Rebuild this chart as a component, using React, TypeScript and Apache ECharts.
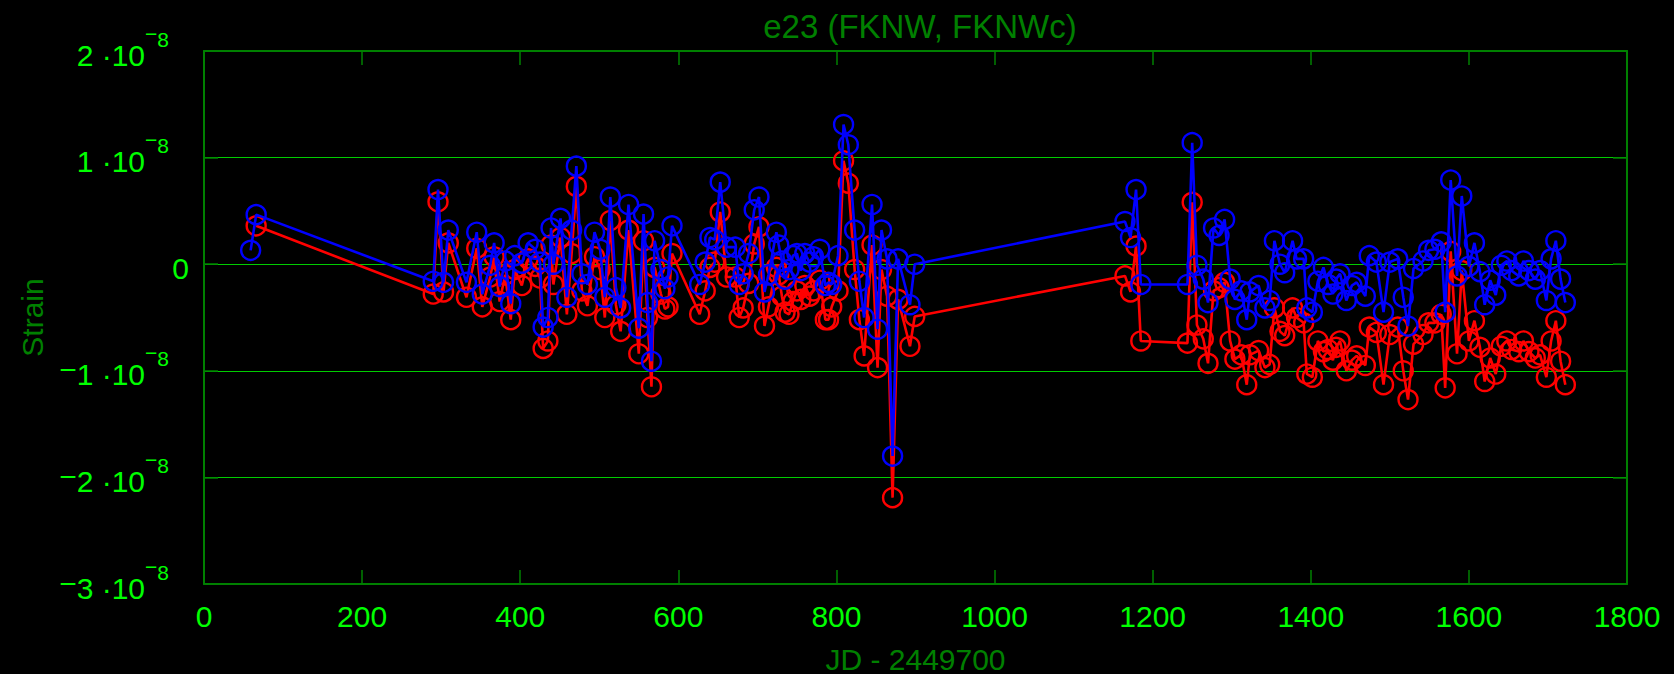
import React, { useEffect, useRef } from "react";
import * as echarts from "echarts";

// Julian day offsets (JD - 2449700)
const jd = [
  59, 66, 290, 296, 303, 309, 332, 345, 352, 362, 367, 374, 381, 388, 393, 402, 410, 419, 425, 429,
  435, 439, 442, 451, 459, 465, 471, 478, 485, 494, 501, 507, 514, 521, 527, 537, 550, 556, 561, 566,
  570, 578, 583, 587, 592, 627, 634, 640, 646, 653, 661, 672, 677, 682, 689, 696, 702, 709, 714, 724,
  727, 731, 735, 740, 745, 750, 755, 760, 766, 771, 779, 786, 790, 794, 802, 809, 815, 823, 829, 835,
  845, 852, 857, 864, 871, 878, 893, 899, 1165, 1172, 1179, 1185, 1244, 1250, 1256, 1264, 1270, 1277, 1284, 1291,
  1298, 1304, 1312, 1319, 1323, 1334, 1342, 1348, 1354, 1361, 1367, 1377, 1382, 1391, 1395, 1402, 1409, 1416, 1422, 1428,
  1432, 1437, 1445, 1452, 1458, 1469, 1474, 1483, 1492, 1500, 1510, 1517, 1523, 1530, 1542, 1549, 1557, 1565, 1570, 1577,
  1585, 1591, 1600, 1607, 1614, 1620, 1627, 1634, 1641, 1648, 1654, 1663, 1669, 1676, 1684, 1690, 1698, 1704, 1710, 1716,
  1722,
];

// e23 strain, FKNW (blue), in units of 1e-8
const fknw = [
  0.13, 0.465, -0.16, 0.70, -0.17, 0.32, -0.17, 0.30, -0.28, -0.01, 0.20, -0.21, 0.03, -0.37, 0.08, 0.01, 0.20, 0.14, 0.02, -0.59,
  -0.50, 0.34, 0.0, 0.43, -0.31, 0.32, 0.92, -0.09, -0.19, 0.30, 0.14, -0.31, 0.63, -0.22, -0.41, 0.56, -0.60, 0.47, -0.36, -0.91,
  0.22, -0.05, -0.23, -0.12, 0.36, -0.19, 0.02, 0.25, 0.23, 0.77, 0.16, 0.16, -0.19, -0.09, 0.10, 0.51, 0.63, -0.26, -0.10, 0.30,
  0.18, 0.03, -0.14, -0.05, 0.08, 0.10, -0.06, 0.10, 0.02, 0.07, 0.14, -0.20, -0.17, -0.19, 0.08, 1.31, 1.12, 0.32, -0.16, -0.50,
  0.56, -0.61, 0.32, 0.05, -1.80, 0.05, -0.38, 0.00, 0.40, 0.25, 0.70, -0.19, -0.19, 1.14, -0.01, -0.14, -0.36, 0.34, 0.27, 0.42,
  -0.14, -0.33, -0.25, -0.52, -0.26, -0.20, -0.41, -0.34, 0.22, 0.00, -0.08, 0.22, 0.05, 0.05, -0.41, -0.45, -0.16, -0.03, -0.19, -0.28,
  -0.14, -0.09, -0.34, -0.20, -0.17, -0.30, 0.08, 0.02, -0.45, 0.02, 0.05, -0.31, -0.58, -0.04, 0.03, 0.13, 0.14, 0.21, -0.45, 0.79,
  -0.11, 0.64, -0.02, 0.20, -0.07, -0.38, -0.15, -0.29, -0.01, 0.03, -0.06, -0.11, 0.03, -0.06, -0.14, -0.06, -0.34, 0.05, 0.22, -0.14,
  -0.36,
];

// e23 strain, FKNWc (red), in units of 1e-8
const fknwc = [
  null, 0.36, -0.28, 0.585, -0.26, 0.20, -0.31, 0.15, -0.40, -0.12, 0.07, -0.35, -0.10, -0.52, -0.05, -0.20, 0.05, -0.02, -0.13, -0.79,
  -0.72, 0.18, -0.19, 0.25, -0.47, 0.10, 0.73, -0.25, -0.39, 0.07, -0.05, -0.50, 0.41, -0.38, -0.63, 0.32, -0.84, 0.22, -0.50, -1.15,
  -0.03, -0.28, -0.42, -0.40, 0.10, -0.47, -0.25, -0.03, 0.02, 0.49, -0.12, -0.12, -0.50, -0.41, -0.18, 0.19, 0.35, -0.58, -0.40, -0.03,
  -0.10, -0.30, -0.45, -0.47, -0.35, -0.25, -0.33, -0.20, -0.30, -0.25, -0.15, -0.52, -0.52, -0.40, -0.25, 0.97, 0.76, -0.05, -0.52, -0.86,
  0.18, -0.97, -0.05, -0.30, -2.19, -0.33, -0.77, -0.49, -0.11, -0.26, 0.17, -0.72, -0.74, 0.58, -0.57, -0.70, -0.93, -0.25, -0.22, -0.17,
  -0.72, -0.89, -0.85, -1.13, -0.85, -0.81, -0.97, -0.94, -0.41, -0.63, -0.67, -0.41, -0.50, -0.55, -1.03, -1.06, -0.72, -0.82, -0.80, -0.90,
  -0.78, -0.72, -1.00, -0.90, -0.86, -0.95, -0.59, -0.64, -1.13, -0.66, -0.59, -1.00, -1.27, -0.75, -0.66, -0.55, -0.55, -0.47, -1.16, 0.12,
  -0.84, -0.06, -0.72, -0.53, -0.78, -1.10, -0.88, -1.03, -0.77, -0.72, -0.80, -0.82, -0.72, -0.82, -0.88, -0.85, -1.06, -0.72, -0.53, -0.91,
  -1.13,
];

const FONT = "Liberation Sans, Arial, sans-serif";
const DARK = "#008000";
const BRIGHT = "#00ff00";

function strainLabel(v: number): string {
  if (v === 0) return "{b|0}";
  const sign = v < 0 ? "{m|\u2212}" : "";
  return `${sign}{b|${Math.abs(v)} \u00b710}{sm|\u2212}{sup|8}`;
}

export default function App() {
  const ref = useRef<HTMLDivElement>(null);

  useEffect(() => {
    if (!ref.current) return;
    const chart = echarts.init(ref.current, undefined, { renderer: "svg" });

    const blueData = jd.map((x, i) => [x, fknw[i]]);
    const redData = jd
      .map((x, i) => [x, fknwc[i]])
      .filter((p) => p[1] !== null);

    const axisLine = { show: true, onZero: false, lineStyle: { color: DARK, width: 2 } };
    const tick = { show: true, inside: true, length: 14, lineStyle: { color: DARK, width: 1.5 } };

    chart.setOption({
      animation: false,
      backgroundColor: "#000",
      title: {
        text: "e23 (FKNW, FKNWc)",
        left: 915,
        top: 5,
        textAlign: "center",
        textStyle: { color: DARK, fontSize: 33, fontWeight: "normal", fontFamily: FONT },
      },
      grid: {
        left: 204,
        right: 47,
        top: 51,
        bottom: 90,
        containLabel: false,
        outerBoundsMode: "none",
      },
      xAxis: [
        {
          type: "value",
          min: 0,
          max: 1800,
          interval: 200,
          position: "bottom",
          name: "JD - 2449700",
          nameLocation: "middle",
          nameGap: 60,
          nameTextStyle: { color: DARK, fontSize: 30, fontFamily: FONT },
          axisLine,
          axisTick: tick,
          axisLabel: {
            color: BRIGHT,
            fontSize: 30,
            fontFamily: FONT,
            margin: 17,
            formatter: (v: number) => String(v),
          },
          splitLine: { show: false },
        },
        {
          type: "value",
          min: 0,
          max: 1800,
          interval: 200,
          position: "top",
          axisLine,
          axisTick: tick,
          axisLabel: { show: false },
          splitLine: { show: false },
        },
      ],
      yAxis: [
        {
          type: "value",
          min: -3,
          max: 2,
          interval: 1,
          position: "left",
          name: "Strain",
          nameLocation: "middle",
          nameGap: 157,
          nameTextStyle: { color: DARK, fontSize: 30, fontFamily: FONT },
          axisLine,
          axisTick: tick,
          axisLabel: {
            margin: 15,
            padding: [8, 0, 0, 0],
            formatter: strainLabel,
            rich: {
              b: { color: BRIGHT, fontSize: 30, fontFamily: FONT },
              m: { color: BRIGHT, fontSize: 30, fontFamily: FONT, padding: [0, 0, 10, 0] },
              sm: { color: BRIGHT, fontSize: 21, fontFamily: FONT, padding: [0, 0, 44, 0] },
              sup: { color: BRIGHT, fontSize: 21, fontFamily: FONT, padding: [0, 20, 32, 0] },
            },
          },
          splitLine: { show: true, lineStyle: { color: "#00cc00", width: 1 } },
        },
        {
          type: "value",
          min: -3,
          max: 2,
          interval: 1,
          position: "right",
          axisLine,
          axisTick: tick,
          axisLabel: { show: false },
          splitLine: { show: false },
        },
      ],
      series: [
        {
          name: "FKNWc",
          type: "line",
          data: redData,
          symbol: "circle",
          symbolSize: 19,
          itemStyle: { color: "transparent", borderColor: "#ff0000", borderWidth: 2.4 },
          lineStyle: { color: "#ff0000", width: 2.6 },
          emphasis: { disabled: true },
          z: 2,
        },
        {
          name: "FKNW",
          type: "line",
          data: blueData,
          symbol: "circle",
          symbolSize: 19,
          itemStyle: { color: "transparent", borderColor: "#0000ff", borderWidth: 2.4 },
          lineStyle: { color: "#0000ff", width: 2.6 },
          emphasis: { disabled: true },
          z: 3,
        },
      ],
    });

    return () => chart.dispose();
  }, []);

  return (
    <div
      ref={ref}
      style={{ position: "fixed", left: 0, top: 0, width: 1674, height: 674 }}
    />
  );
}
